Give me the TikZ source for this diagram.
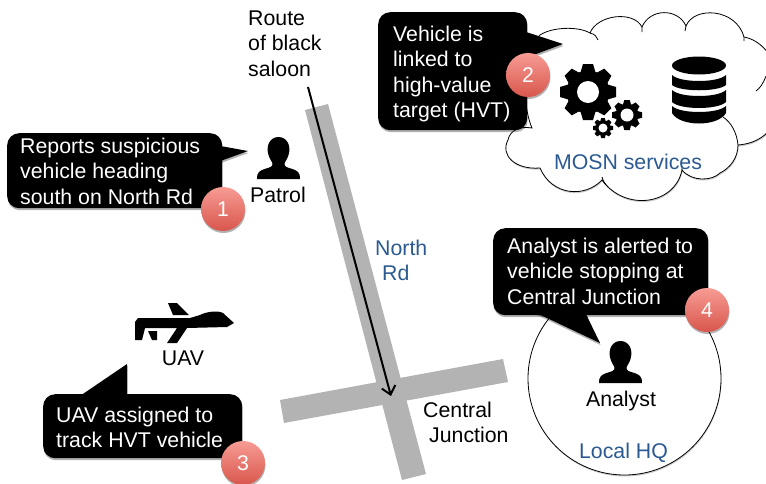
\documentclass[tikz,border=0pt]{standalone}
\usepackage{fontspec}
\setmainfont{Liberation Sans}
\usetikzlibrary{arrows.meta,shadows,calc}
\definecolor{roadgray}{HTML}{B3B3B3}
\definecolor{labelblue}{HTML}{2B5A92}
\definecolor{badgetop}{HTML}{F79C94}
\definecolor{badgebot}{HTML}{D8564C}
\tikzset{
  softshadow/.style={drop shadow={shadow xshift=0.5pt,shadow yshift=-2pt,opacity=.3,fill=black}},
  road/.style={fill=roadgray,draw=none},
  lbl/.style={inner sep=0pt,font=\fontsize{21.3}{25.5}\selectfont,align=left},
  wlbl/.style={lbl,text=white},
  calloutbox/.style={fill=black,rounded corners=12pt,inner sep=0pt,anchor=north west,softshadow},
  callouttail/.style={fill=black,softshadow},
  badge/.style={circle,minimum size=44pt,inner sep=0pt,top color=badgetop,bottom color=badgebot,text=white,
    font=\fontsize{21.3}{25.5}\selectfont,softshadow},
  icon/.style={fill=black,draw=none}
}
% person icon: #1 = bottom centre x, #2 = bottom y
\newcommand{\personicon}[2]{%
  \fill[icon,shift={(#1pt,-#2pt)}] (-21.5,0) .. controls (-21.5,-7) and (-19,-8) .. (-14,-10)
    .. controls (-9,-11.5) and (-6,-12) .. (-6,-15)
    .. controls (-6,-17) and (-9,-20) .. (-10,-24)
    .. controls (-13,-34) and (-8,-42) .. (0,-42)
    .. controls (8,-42) and (13,-34) .. (10,-24)
    .. controls (9,-20) and (6,-17) .. (6,-15)
    .. controls (6,-12) and (9,-11.5) .. (14,-10)
    .. controls (19,-8) and (21.5,-7) .. (21.5,0) -- cycle;}
% gear icon: x, y, outer radius, body radius, hole radius
\newcommand{\gearicon}[5]{%
  \fill[icon] (#1,#2) circle[radius=#4];
  \foreach \a in {0,45,...,315}{
    \fill[icon,shift={(#1pt,-#2pt)},rotate=\a]
      (#4*0.9,#3*0.27) -- (#3,#3*0.18) -- (#3,-#3*0.18) -- (#4*0.9,-#3*0.27) -- cycle;}
  \fill[white] (#1,#2) circle[radius=#5];}
\begin{document}
\begin{tikzpicture}[x=1pt,y=-1pt]
\useasboundingbox (0,0) rectangle (766,483);
% roads
\fill[road] (305,110) -- (328,104) -- (426,474) -- (402,480) -- cycle;
\fill[road] (280,400) -- (503,359) -- (508,382) -- (284,423) -- cycle;
% cloud
\begin{scope}
\clip (0,0) rectangle (766,483);
\fill[white,draw=black,line width=0.8pt,drop shadow={shadow xshift=0.5pt,shadow yshift=-1.5pt,opacity=.2,fill=black}]
  (532,128) .. controls (520,100) and (525,50) .. (540,35)
  .. controls (552,27) and (578,26) .. (590,33)
  .. controls (597,15) and (633,10) .. (642,27)
  .. controls (650,8) and (678,8) .. (686,26)
  .. controls (694,6) and (736,8) .. (744,37)
  .. controls (760,40) and (775,55) .. (778,80)
  .. controls (785,110) and (775,142) .. (738,145)
  .. controls (738,158) and (730,168) .. (720,173)
  .. controls (712,181) and (692,182) .. (682,170)
  .. controls (675,205) and (625,212) .. (602,180)
  .. controls (585,198) and (552,196) .. (540,168)
  .. controls (515,170) and (500,155) .. (508,140)
  .. controls (510,130) and (520,126) .. (532,128) -- cycle;
\draw[black,line width=0.8pt]
  (590,33) .. controls (595,34) and (597,37) .. (598,40)
  (642,27) .. controls (642,28) and (642,30) .. (642,32)
  (686,26) .. controls (686,28) and (686,29) .. (685,31)
  (744,37) .. controls (744,38) and (744,40) .. (744,41)
  (766,76) .. controls (763,84) and (760,88) .. (756,91)
  (723,117) .. controls (731,122) and (737,133) .. (738,145)
  (602,177) .. controls (603,181) and (605,184) .. (608,187)
  (682,170) .. controls (682,169) and (682,168) .. (682,167);
\end{scope}
% local HQ circle
\node[circle,draw=black,fill=white,line width=0.8pt,minimum size=193pt,inner sep=0pt,
  drop shadow={shadow xshift=0.5pt,shadow yshift=-1.5pt,opacity=.2,fill=black}] (hq) at (624.5,378.5) {};
% route arrow
\coordinate (routestart) at (308,87);
\coordinate (routeend) at (391,396);
\draw[line width=2pt,-{Straight Barb[length=8pt,width=14pt,line width=2pt]}] (routestart) -- (routeend);
% icons
\personicon{278.5}{179}
\personicon{620.5}{383}
\gearicon{588}{92}{28}{21.5}{11}
\gearicon{627}{115}{15}{11.5}{6.5}
\gearicon{603}{128}{10}{7.5}{4.5}
% database
\fill[icon] (699,65.5) ellipse[x radius=27,y radius=9];
\fill[icon] (672,75) .. controls (680,83) and (718,83) .. (726,75) -- (726,85)
  .. controls (718,92) and (680,92) .. (672,85) -- cycle;
\fill[icon] (672,90) .. controls (680,98) and (718,98) .. (726,90) -- (726,102)
  .. controls (718,110) and (680,110) .. (672,102) -- cycle;
\fill[icon] (672,106) .. controls (680,114) and (718,114) .. (726,106) -- (726,113)
  .. controls (718,127) and (680,127) .. (672,113) -- cycle;
% UAV
\fill[icon] (135,322) -- (138,318) -- (190,318) -- (200,315) .. controls (205,312) and (218,310) .. (223,313)
  -- (234,323) -- (227,327) -- (187,328) -- (177,343) -- (167,343) -- (177,328) -- (145,328)
  -- (142,340) -- (135,340) -- cycle;
\fill[icon] (148,331) -- (157,331) -- (157,340) -- (152,340) -- cycle;
\fill[icon] (168,303) -- (177,303) -- (189,315) -- (173,315) -- cycle;
% callouts
\fill[callouttail] (215,145) -- (248,151) -- (215,163) -- cycle;
\node[calloutbox,minimum width=215pt,minimum height=75pt] (c1) at (7,133) {};
\fill[callouttail] (520,30) -- (563,44) -- (520,60) -- cycle;
\node[calloutbox,minimum width=149pt,minimum height=118pt] (c2) at (378,12) {};
\fill[callouttail] (77,398) -- (127,364) -- (127,398) -- cycle;
\node[calloutbox,minimum width=199pt,minimum height=64pt] (c3) at (43,394) {};
\fill[callouttail] (530,310) -- (600,343) -- (584,310) -- cycle;
\node[calloutbox,minimum width=215pt,minimum height=87pt] (c4) at (493,228) {};
% badges
\node[badge] (b1) at (223,209) {1};
\node[badge] (b2) at (528,75) {2};
\node[badge] (b3) at (243,463) {3};
\node[badge] (b4) at (707,310) {4};
% callout texts
\node[wlbl,anchor=north west] (t1) at (20,135.15) {\strut Reports suspicious\\vehicle heading\\south on North Rd};
\node[wlbl,anchor=north west] (t2) at (393,23.15) {\strut Vehicle is\\linked to\\high-value\\target (HVT)};
\node[wlbl,anchor=north west] (t3) at (56,404.15) {\strut UAV assigned to\\track HVT vehicle};
\node[wlbl,anchor=north west] (t4) at (507,235.15) {\strut Analyst is alerted to\\vehicle stopping at\\Central Junction};
% labels
\node[lbl,anchor=north west] (route) at (248,7.15) {\strut Route\\of black\\saloon};
\node[lbl,anchor=base] (patrol) at (278,202) {Patrol};
\node[lbl,anchor=base,text=labelblue] (mosn) at (628,169) {MOSN services};
\node[lbl,anchor=north west,text=labelblue] (north) at (375,237.15) {\strut North\\\hspace*{7pt}Rd};
\node[lbl,anchor=base] (uav) at (183,365) {UAV};
\node[lbl,anchor=north west] (central) at (423,399.15) {\strut Central\\\hspace*{6pt}Junction};
\node[lbl,anchor=base] (analyst) at (621,406) {Analyst};
\node[lbl,anchor=base,text=labelblue] (localhq) at (623.5,458) {Local HQ};
\end{tikzpicture}
\end{document}
